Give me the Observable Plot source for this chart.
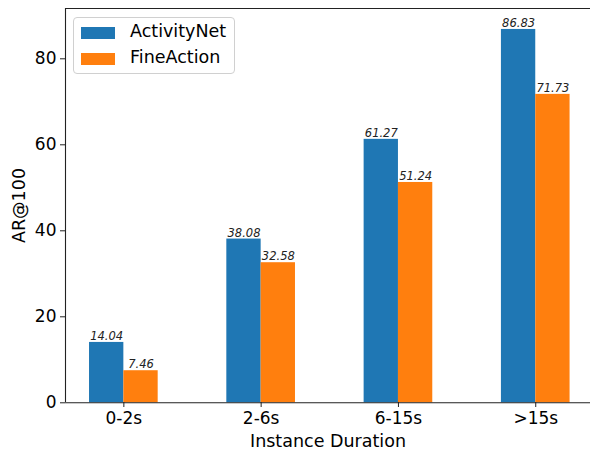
<!DOCTYPE html>
<html>
<head>
<meta charset="utf-8">
<script src="https://cdn.jsdelivr.net/npm/d3@7"></script>
<script src="https://cdn.jsdelivr.net/npm/@observablehq/plot@0.6"></script>
<style>
  html, body { margin: 0; padding: 0; background: white; }
  #wrap { position: relative; width: 590px; height: 449px; overflow: hidden; font-family: "DejaVu Sans", sans-serif; }
  #legend { position: absolute; left: 73px; top: 17px; width: 162px; height: 57px; border: 1px solid #d0d0d0; border-radius: 4px; background: rgba(255,255,255,0.8); box-sizing: border-box; }
  .sw { position: absolute; left: 7px; width: 34px; height: 12px; }
  .lab { position: absolute; left: 56px; font-size: 17.5px; color: #000; white-space: nowrap; line-height: 1; }
</style>
</head>
<body>
<div id="wrap"></div>
<script>
const categories = ["0-2s", "2-6s", "6-15s", ">15s"];
const series = ["ActivityNet", "FineAction"];
const activityNet = [14.04, 38.08, 61.27, 86.83];
const fineAction = [7.46, 32.58, 51.24, 71.73];
const colors = ["#1f77b4", "#ff7f0e"];
const yTicks = [0, 20, 40, 60, 80];

const barW = 0.25;
const data = [];
categories.forEach((c, i) => {
  [activityNet, fineAction].forEach((vals, s) => {
    const center = i + (s === 0 ? -barW / 2 : barW / 2);
    data.push({cat: c, series: series[s], value: vals[i], x1: center - barW / 2, x2: center + barW / 2, xc: center, color: colors[s]});
  });
});

const xDomain = [-0.425, 3.425];
const yMax = 91.7;
const font = "DejaVu Sans";

const chart = Plot.plot({
  width: 590,
  height: 449,
  marginLeft: 65,
  marginRight: 0,
  marginTop: 8,
  marginBottom: 47,
  style: {fontFamily: font, background: "white", overflow: "visible", fontSize: "17.5px"},
  x: {type: "linear", domain: xDomain, range: [65, 593.6]},
  y: {domain: [0, yMax], range: [402.3, 8]},
  marks: [
    Plot.rectY(data, {x1: "x1", x2: "x2", y1: 0, y2: "value", fill: "color"}),
    Plot.text(data, {x: "xc", y: "value", text: d => d.value.toFixed(2), dy: -6, fontSize: 11.5, fontStyle: "italic", fill: "#222", textAnchor: "middle", fontFamily: font}),
    Plot.ruleY([0], {stroke: "#222", strokeWidth: 1.1}),
    Plot.ruleY([yMax], {stroke: "#222", strokeWidth: 1.1}),
    Plot.ruleX([xDomain[0]], {stroke: "#222", strokeWidth: 1.1}),
    Plot.axisX({ticks: [0, 1, 2, 3], tickFormat: i => categories[i], tickSize: 5, tickPadding: 4, fontSize: 17, stroke: "#222", color: "#000",
      label: null}),
    Plot.axisX({ticks: [], label: "Instance Duration", labelAnchor: "center", labelOffset: 44, labelArrow: "none", fontSize: 17.5, color: "#000"}),
    Plot.axisY({ticks: yTicks, tickSize: 5, tickPadding: 4, fontSize: 17, stroke: "#222", color: "#000", label: null}),
    Plot.axisY({ticks: [], label: "AR@100", labelAnchor: "center", labelOffset: 53, labelArrow: "none", fontSize: 17.5, color: "#000"})
  ]
});

const wrap = document.getElementById("wrap");
wrap.appendChild(chart);

const legend = document.createElement("div");
legend.id = "legend";
series.forEach((s, i) => {
  const sw = document.createElement("div");
  sw.className = "sw";
  sw.style.top = (9 + i * 26) + "px";
  sw.style.background = colors[i];
  legend.appendChild(sw);
  const lab = document.createElement("div");
  lab.className = "lab";
  lab.style.top = (5 + i * 26) + "px";
  lab.textContent = s;
  legend.appendChild(lab);
});
wrap.appendChild(legend);
</script>
</body>
</html>
